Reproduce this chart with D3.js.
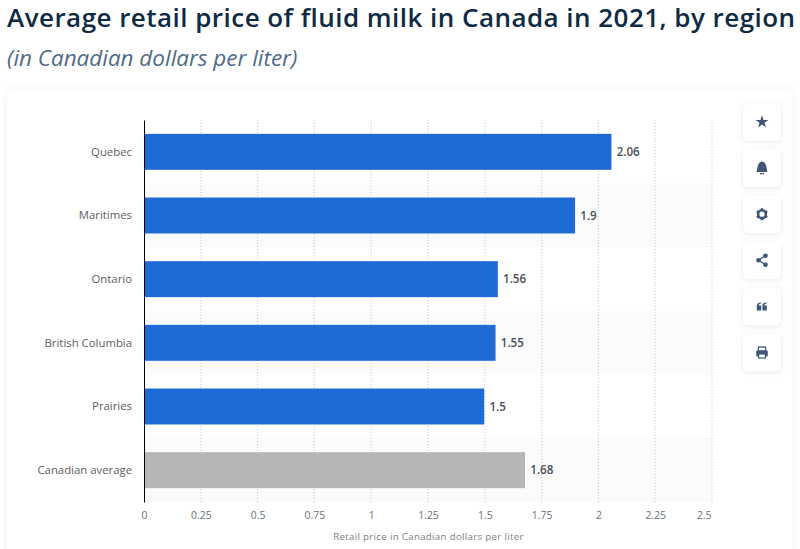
<!DOCTYPE html>
<html>
<head>
<meta charset="utf-8">
<script src="https://cdnjs.cloudflare.com/ajax/libs/d3/7.8.5/d3.min.js"></script>
<style>
  html, body { margin: 0; padding: 0; background: #fff; overflow: hidden; }
  text { font-family: "Open Sans", sans-serif; }
</style>
</head>
<body>
<div id="chart"></div>
<script>
const regions = ["Quebec", "Maritimes", "Ontario", "British Columbia", "Prairies", "Canadian average"]
const prices = [2.06, 1.9, 1.56, 1.55, 1.5, 1.68]
const barColors = ["#1f6bd6", "#1f6bd6", "#1f6bd6", "#1f6bd6", "#1f6bd6", "#b7b5b5"]
const xTicks = [0, 0.25, 0.5, 0.75, 1, 1.25, 1.5, 1.75, 2, 2.25, 2.5]

const svgWidth = 800
const svgHeight = 549
const margin = { top: 120, right: 88, bottom: 47, left: 144 }
const chartWidth = svgWidth - margin.left - margin.right
const chartHeight = svgHeight - margin.top - margin.bottom

const svg = d3.select("#chart").append("svg")
  .attr("width", svgWidth)
  .attr("height", svgHeight)
  .style("display", "block")

const defs = svg.append("defs")
const soft = defs.append("filter").attr("id", "soft")
  .attr("x", "-30%").attr("y", "-30%").attr("width", "160%").attr("height", "160%")
soft.append("feDropShadow").attr("dx", 0).attr("dy", 0).attr("stdDeviation", 4)
  .attr("flood-color", "#a9b4c6").attr("flood-opacity", 0.2)
const btn = defs.append("filter").attr("id", "btn")
  .attr("x", "-30%").attr("y", "-30%").attr("width", "160%").attr("height", "160%")
btn.append("feDropShadow").attr("dx", 0).attr("dy", 1).attr("stdDeviation", 2)
  .attr("flood-color", "#8a9ab0").attr("flood-opacity", 0.25)

// title
svg.append("text").attr("x", 7).attr("y", 27)
  .attr("font-size", 26).attr("font-weight", 600).attr("fill", "#0f2a43")
  .attr("letter-spacing", 0.46)
  .text("Average retail price of fluid milk in Canada in 2021, by region")
svg.append("text").attr("x", 7).attr("y", 66)
  .attr("font-size", 22.45).attr("font-style", "italic").attr("fill", "#4f6a88")
  .text("(in Canadian dollars per liter)")

// card
svg.append("rect").attr("x", 7).attr("y", 90).attr("width", 785).attr("height", 480)
  .attr("rx", 8).attr("fill", "#fff").attr("filter", "url(#soft)")

const chartG = svg.append("g")
  .attr("transform", `translate(${margin.left}, ${margin.top})`)

const x = d3.scaleLinear().domain([0, 2.5]).range([0, chartWidth])
const y = d3.scaleBand().domain(regions).range([0, chartHeight]).paddingInner(0.435).paddingOuter(0.2175)

// alternating row stripes
const step = chartHeight / regions.length
chartG.selectAll(".stripe")
  .data(regions.filter((d, i) => i % 2 === 1))
  .enter()
  .append("rect")
  .attr("class", "stripe")
  .attr("x", 0)
  .attr("y", d => y(d) - (step - y.bandwidth()) / 2)
  .attr("width", chartWidth)
  .attr("height", step)
  .attr("fill", "#fbfbfc")

// grid
chartG.selectAll(".grid")
  .data(xTicks.slice(1))
  .enter()
  .append("line")
  .attr("class", "grid")
  .attr("x1", d => x(d)).attr("x2", d => x(d))
  .attr("y1", 0).attr("y2", chartHeight)
  .attr("stroke", "#cdbfd6")
  .attr("stroke-dasharray", "1 2")

// bars
chartG.selectAll(".bar")
  .data(regions)
  .enter()
  .append("rect")
  .attr("class", "bar")
  .attr("x", 0)
  .attr("y", d => y(d))
  .attr("width", (d, i) => x(prices[i]) - 0.6)
  .attr("height", y.bandwidth())
  .attr("fill", (d, i) => barColors[i])

// value labels
chartG.selectAll(".value")
  .data(regions)
  .enter()
  .append("text")
  .attr("class", "value")
  .attr("x", (d, i) => x(prices[i]) + 4.6)
  .attr("y", d => y(d) + y.bandwidth() / 2 + 4)
  .attr("font-size", 11.6).attr("font-weight", 600).attr("fill", "#4a4f57")
  .text((d, i) => prices[i])

// axes
const yAxis = d3.axisLeft(y).tickSize(0).tickPadding(12)
const yG = chartG.append("g").call(yAxis)
yG.select(".domain").attr("stroke", "#000").attr("stroke-width", 1)
yG.selectAll("text").attr("font-size", 11.35).attr("fill", "#5b5e64")
  .attr("dy", "0.34em")
  .style("font-family", '"Open Sans", sans-serif')

const xAxis = d3.axisBottom(x).tickValues(xTicks).tickSize(0).tickPadding(10).tickFormat(d => d)
const xG = chartG.append("g").attr("transform", `translate(0, ${chartHeight})`).call(xAxis)
xG.select(".domain").remove()
xG.selectAll("text").attr("font-size", 10.4).attr("fill", "#6a7079")
  .style("font-family", '"Open Sans", sans-serif')
xG.selectAll("text").filter(d => d === 2.5).attr("text-anchor", "end").attr("dx", -1)

svg.append("text").attr("x", 428.5).attr("y", 540)
  .attr("text-anchor", "middle").attr("font-size", 9.7).attr("fill", "#7a808a")
  .attr("letter-spacing", 0.32)
  .text("Retail price in Canadian dollars per liter")

// side buttons
const iconColor = "#3f5674"
const buttons = ["star", "bell", "gear", "share", "quote", "print"]
const btnG = svg.selectAll(".btn")
  .data(buttons)
  .enter()
  .append("g")
  .attr("class", "btn")
  .attr("transform", (d, i) => `translate(762, ${122 + i * 46.1})`)
btnG.append("rect")
  .attr("x", -19).attr("y", -19).attr("width", 38).attr("height", 38).attr("rx", 5)
  .attr("fill", "#fff").attr("filter", "url(#btn)")

const drawIcon = {
  star: g => g.append("path").attr("d", d3.symbol(d3.symbolStar, 52)()).attr("fill", iconColor),
  bell: g => {
    g.append("path").attr("d", "M-5.5,4 C-4.5,2 -5,-6 0,-6.5 C5,-6 4.5,2 5.5,4 Z").attr("fill", iconColor)
    g.append("rect").attr("x", -2).attr("y", 5).attr("width", 4).attr("height", 1.2).attr("fill", iconColor)
  },
  gear: g => {
    g.append("circle").attr("r", 3.9).attr("fill", "none").attr("stroke", iconColor).attr("stroke-width", 2.6)
    g.selectAll("line").data(d3.range(6)).enter().append("line")
      .attr("x1", 0).attr("y1", -4).attr("x2", 0).attr("y2", -6)
      .attr("transform", d => `rotate(${d * 60})`)
      .attr("stroke", iconColor).attr("stroke-width", 2.4)
  },
  share: g => {
    g.append("path").attr("d", "M3.5,-4.5 L-3.5,0 L3.5,4.5").attr("fill", "none").attr("stroke", iconColor).attr("stroke-width", 1.3)
    g.selectAll("circle").data([[3.5, -4.5], [-3.5, 0], [3.5, 4.5]]).enter().append("circle")
      .attr("cx", d => d[0]).attr("cy", d => d[1]).attr("r", 2.3).attr("fill", iconColor)
  },
  quote: g => {
    g.selectAll("path").data([-2.8, 2.8]).enter().append("path")
      .attr("transform", d => `translate(${d}, 0)`)
      .attr("d", "M2,-4 L2,-2.8 C0.6,-2.8 -0.4,-2 -0.4,-1 L2,-1 L2,4 L-2.4,4 L-2.4,-0.6 C-2.4,-3 -0.8,-4 2,-4 Z")
      .attr("fill", iconColor)
  },
  print: g => {
    g.append("rect").attr("x", -3.6).attr("y", -5.5).attr("width", 7.2).attr("height", 4).attr("fill", "none").attr("stroke", iconColor).attr("stroke-width", 1.3)
    g.append("rect").attr("x", -5.8).attr("y", -2).attr("width", 11.6).attr("height", 6).attr("rx", 1).attr("fill", iconColor)
    g.append("rect").attr("x", -3.4).attr("y", 1.5).attr("width", 6.8).attr("height", 4).attr("fill", "#fff").attr("stroke", iconColor).attr("stroke-width", 1.2)
  }
}
btnG.each(function (d) { drawIcon[d](d3.select(this)) })
</script>
</body>
</html>
